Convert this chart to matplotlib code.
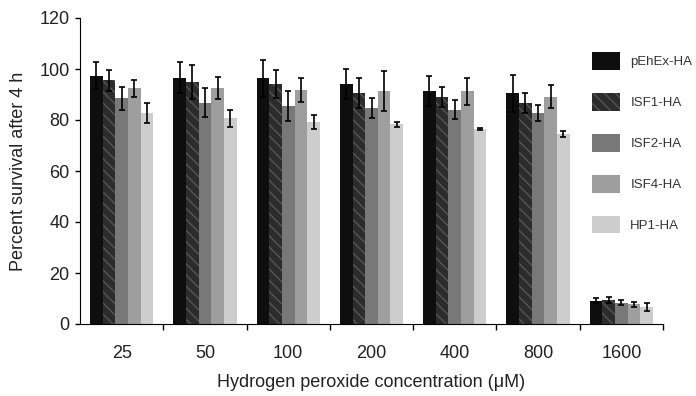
import numpy as np
import matplotlib
matplotlib.use("Agg")
from matplotlib import pyplot as plt
from matplotlib.patches import Patch

plt.rcParams['font.family'] = ['Liberation Sans', 'DejaVu Sans']

CONCENTRATIONS = ['25', '50', '100', '200', '400', '800', '1600']
STRAINS = ['pEhEx-HA', 'ISF1-HA', 'ISF2-HA', 'ISF4-HA', 'HP1-HA']

# percent survival per strain, one value per concentration
PEHEX = [97.4, 96.6, 96.4, 94.1, 91.4, 90.5, 9.1]
ISF1 = [95.5, 94.9, 94.2, 90.5, 89.0, 86.6, 9.3]
ISF2 = [88.6, 86.8, 85.5, 84.6, 84.0, 82.7, 8.4]
ISF4 = [92.5, 92.5, 91.8, 91.4, 91.2, 89.2, 7.8]
HP1 = [82.7, 80.7, 79.3, 78.4, 76.5, 74.5, 6.7]

PEHEX_ERR = [5.4, 6.2, 7.3, 5.9, 6.0, 7.2, 1.0]
ISF1_ERR = [4.2, 6.5, 5.5, 5.9, 3.9, 3.9, 1.2]
ISF2_ERR = [4.5, 5.7, 6.0, 4.0, 3.7, 3.2, 1.0]
ISF4_ERR = [3.3, 4.3, 4.8, 8.0, 5.4, 4.6, 1.0]
HP1_ERR = [4.0, 3.3, 2.7, 1.0, 0.5, 1.0, 1.5]

values = [PEHEX, ISF1, ISF2, ISF4, HP1]
errors = [PEHEX_ERR, ISF1_ERR, ISF2_ERR, ISF4_ERR, HP1_ERR]
colors = ['#0e0e0e', '#2c2c2c', '#787878', '#9e9e9e', '#cdcdcd']
hatches = [None, '\\\\\\', None, None, None]

fig = plt.figure(figsize=(6.96, 3.96), dpi=100)
ax = fig.add_axes([80/696, 72/396, 583/696, 306/396])

x = np.arange(len(CONCENTRATIONS))
w = 0.152
for i in range(len(STRAINS)):
    pos = x + (i - 2) * w
    ax.bar(pos, values[i], width=w, color=colors[i], hatch=hatches[i],
           edgecolor='#555555' if hatches[i] else colors[i], linewidth=0)
    ax.errorbar(pos, values[i], yerr=errors[i], fmt='none', ecolor='black',
                elinewidth=1.2, capsize=2, capthick=1.2)

ax.set_xlim(-0.5, len(CONCENTRATIONS) - 0.5)
ax.set_ylim(0, 120)
ax.set_yticks(range(0, 121, 20))
ax.set_xticks(x)
ax.set_xticklabels(CONCENTRATIONS)
ax.set_xticks(np.arange(0.5, len(CONCENTRATIONS), 1.0), minor=True)
ax.tick_params(axis='x', which='major', length=0, pad=15, labelsize=13, colors='#222222')
ax.tick_params(axis='x', which='minor', length=4, width=1, direction='out')
ax.tick_params(axis='y', length=3.5, width=1, pad=4, labelsize=13, colors='black', labelcolor='#222222')

ax.spines['top'].set_visible(False)
ax.spines['right'].set_visible(False)

ax.set_xlabel('Hydrogen peroxide concentration (\u03bcM)', fontsize=13, labelpad=9, color='#222222')
ax.set_ylabel('Percent survival after 4 h', fontsize=13, labelpad=9, color='#222222')

handles = [Patch(facecolor=colors[i], hatch=hatches[i],
                 edgecolor='#555555' if hatches[i] else colors[i], linewidth=0)
           for i in range(len(STRAINS))]
fig.legend(handles, STRAINS, loc='upper left', bbox_to_anchor=(592/696, 1 - 52/396),
           frameon=False, fontsize=9.5, handlelength=2.1, handleheight=1.7,
           labelspacing=1.75, handletextpad=0.8, borderpad=0, borderaxespad=0,
           labelcolor='#333333')

fig.savefig('out.png', dpi=100)
